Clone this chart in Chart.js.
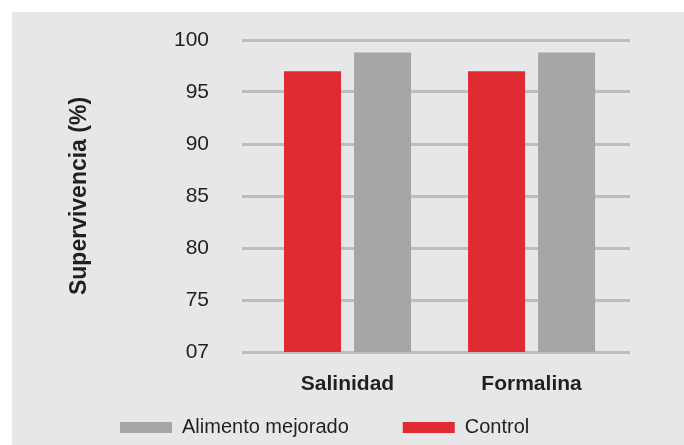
<!DOCTYPE html>
<html>
<head>
<meta charset="utf-8">
<script src="https://cdn.jsdelivr.net/npm/chart.js@4/dist/chart.umd.min.js"></script>
<style>
  html, body { margin: 0; padding: 0; background: #ffffff; }
  #wrap { position: relative; width: 684px; height: 445px; }
  #panel { position: absolute; left: 12px; top: 12px; right: 0; bottom: 0; background: #e6e7e8; }
  #myChart { position: absolute; left: 0; top: 0; }
</style>
</head>
<body>
<div id="wrap">
  <div id="panel"></div>
  <canvas id="myChart" width="684" height="445"></canvas>
</div>
<script>
// datos del grafico
const categories = ['Salinidad', 'Formalina'];
const controlValues = [97.0, 97.0];
const mejoradoValues = [98.8, 98.8];
const yTicks = [70, 75, 80, 85, 90, 95, 100];
const yTickLabels = ['07', '75', '80', '85', '90', '95', '100'];

const textColor = '#231f20';
const fontFamily = "'Liberation Sans', Arial, sans-serif";

// mueve la leyenda a su sitio (abajo a la izquierda, como el original)
const legendPlace = {
    id: 'legendPlace',
    afterLayout(chart) {
        const lg = chart.legend;
        const pad = lg.options.labels.padding;
        lg.left = 120 - pad;
        lg.top = 417.5 - pad;
    }
};

document.addEventListener('DOMContentLoaded', function () {
    Chart.defaults.font.family = fontFamily;
    Chart.defaults.color = textColor;

    const ctx = document.getElementById('myChart').getContext('2d');
    const myChart = new Chart(ctx, {
        type: 'bar',
        data: {
            datasets: [{
                label: 'Control',
                data: categories.map((c, i) => ({ x: i + 1, y: controlValues[i] })),
                backgroundColor: '#e02b33',
                categoryPercentage: 0.761,
                barPercentage: 0.814
            }, {
                label: 'Alimento mejorado',
                data: categories.map((c, i) => ({ x: i + 1, y: mejoradoValues[i] })),
                backgroundColor: '#a6a6a4',
                categoryPercentage: 0.761,
                barPercentage: 0.814
            }]
        },
        options: {
            responsive: false,
            animation: false,
            layout: {
                padding: { left: 66, top: 40, right: 54, bottom: 0 }
            },
            scales: {
                x: {
                    type: 'linear',
                    offset: false,
                    min: 0.4266,
                    max: 2.535,
                    grid: { display: false, drawTicks: false },
                    border: { display: false },
                    afterBuildTicks: function (scale) {
                        scale.ticks = categories.map((c, i) => ({ value: i + 1 }));
                    },
                    afterFit: function (scale) {
                        scale.height = 50;
                    },
                    ticks: {
                        autoSkip: false,
                        maxRotation: 0,
                        padding: 20,
                        color: textColor,
                        font: { size: 21, weight: 'bold' },
                        callback: function (value) {
                            return categories[value - 1];
                        }
                    }
                },
                y: {
                    min: 70,
                    max: 100,
                    // marcas invisibles: solo separan las etiquetas del area
                    grid: { color: '#bdbdbf', lineWidth: 3, drawTicks: true, tickLength: 33, tickColor: 'rgba(0,0,0,0)' },
                    border: { display: false },
                    afterBuildTicks: function (scale) {
                        scale.ticks = yTicks.map(v => ({ value: v }));
                    },
                    afterFit: function (scale) {
                        scale.width = 242 - 66;
                    },
                    ticks: {
                        padding: 0,
                        color: textColor,
                        font: { size: 21 },
                        callback: function (value) {
                            return yTickLabels[yTicks.indexOf(value)];
                        }
                    },
                    title: {
                        display: true,
                        text: 'Supervivencia (%)',
                        color: textColor,
                        padding: 0,
                        font: { size: 23, weight: 'bold' }
                    }
                }
            },
            plugins: {
                legend: {
                    position: 'bottom',
                    align: 'start',
                    reverse: true,
                    maxHeight: 43,
                    labels: {
                        boxWidth: 52,
                        boxHeight: 11,
                        padding: 54,
                        color: textColor,
                        font: { size: 20 }
                    }
                },
                tooltip: { enabled: false }
            }
        },
        plugins: [legendPlace]
    });
});
</script>
</body>
</html>
